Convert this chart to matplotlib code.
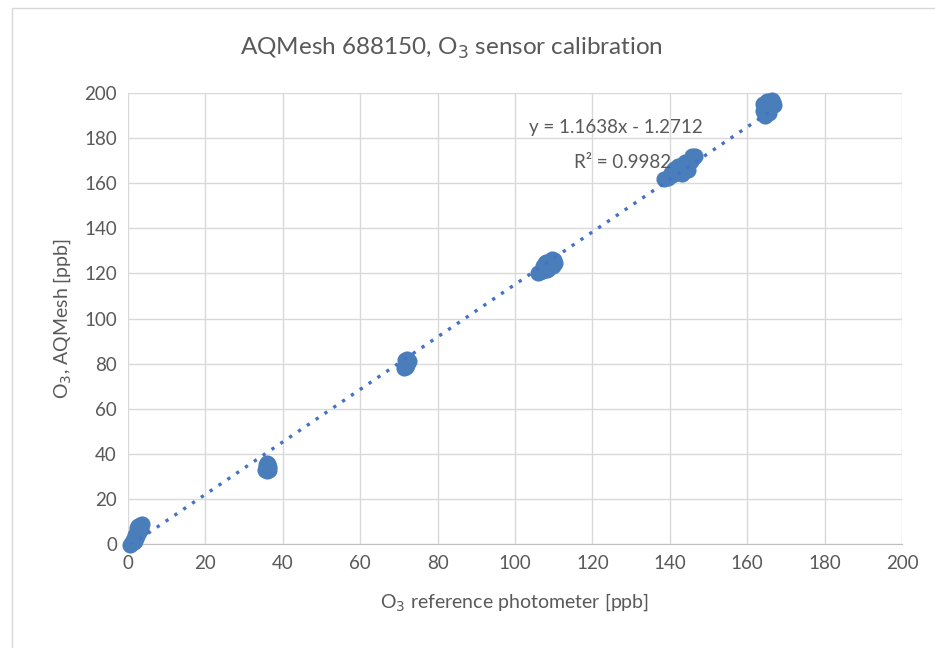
import matplotlib
matplotlib.use("Agg")
import matplotlib.pyplot as plt
from matplotlib.patches import Rectangle
import numpy as np

plt.rcParams['font.family'] = ['Lato', 'DejaVu Sans']

ref_x = [0.8, 1.0, 1.2, 1.5, 1.8, 2.0, 2.3, 2.5, 2.8, 3.0, 3.2, 3.5, 2.2, 1.9, 2.6, 3.3, 1.1, 1.4, 0.6, 2.9,
         35.5, 35.8, 36.0, 36.2, 36.5, 35.9, 36.1, 35.6, 36.4,
         71.4, 71.8, 72.0, 72.2, 72.6, 71.9, 72.1, 72.4, 71.6,
         106.0, 106.5, 107.0, 107.5, 108.0, 108.5, 109.0, 109.5, 110.0, 110.3, 108.2, 108.8, 107.8, 109.3,
         107.2, 108.0, 109.8, 108.6, 109.6, 107.0,
         138.5, 139.5, 140.5, 141.0, 141.5, 142.0, 142.5, 143.0, 143.5, 144.0, 144.5, 145.0, 145.5, 146.0, 146.5,
         142.8, 143.8, 144.8, 141.2, 142.2, 144.0, 145.8, 143.2, 140.2,
         164.0, 164.3, 164.6, 165.0, 165.3, 165.6, 166.0, 166.3, 166.6, 165.2, 165.8, 164.8, 164.2, 166.8]
aq_y = [0.2, 0.5, 1.0, 0.8, 1.5, 2.5, 3.5, 5.0, 6.0, 7.5, 8.5, 9.0, 7.0, 4.0, 8.0, 6.5, 0.3, 1.8, -0.5, 5.5,
        33.0, 34.5, 32.5, 35.5, 34.0, 36.0, 33.5, 35.0, 32.8,
        78.0, 80.0, 81.5, 79.5, 81.0, 78.5, 82.0, 80.5, 81.8,
        120.0, 120.5, 121.0, 122.0, 123.0, 124.0, 125.0, 125.5, 126.0, 124.5, 121.5, 122.5, 124.5, 123.5,
        123.5, 125.0, 123.5, 121.8, 126.5, 121.0,
        162.0, 162.5, 163.5, 164.0, 165.0, 164.5, 166.0, 167.0, 166.5, 168.0, 167.5, 169.0, 170.0, 171.0, 172.0,
        165.5, 167.5, 166.0, 166.5, 167.5, 169.5, 172.0, 164.0, 164.5,
        192.0, 194.0, 190.0, 193.0, 195.0, 191.0, 194.0, 197.0, 196.0, 196.5, 195.5, 193.5, 195.0, 194.5]

slope = 1.1638
intercept = -1.2712
r2 = 0.9982

fig = plt.figure(figsize=(9.35, 6.48), dpi=100)
fig.patches.append(Rectangle((12/935, -0.01), 1.0, 1 - 8/648 + 0.01, transform=fig.transFigure,
                             fill=False, edgecolor='#d9d9d9', linewidth=1.0))
ax = fig.add_axes([128/935, 1 - 544/648, (902 - 128)/935, (544 - 93)/648])

ax.scatter(ref_x, aq_y, s=135, color='#4a7ebb', zorder=3, linewidths=0, clip_on=False)

xs = np.array([min(ref_x), max(ref_x)])
ax.plot(xs, slope * xs + intercept, linestyle=(0, (1, 2.2)), color='#4472c4', linewidth=2.4, zorder=4)

ax.set_xlim(0, 200)
ax.set_ylim(0, 200)
ax.set_xticks(np.arange(0, 201, 20))
ax.set_yticks(np.arange(0, 201, 20))
ax.grid(True, color='#d9d9d9', linewidth=1.0)
ax.set_axisbelow(True)
for s in ['top', 'right', 'left']:
    ax.spines[s].set_visible(False)
ax.spines['bottom'].set_color('#bfbfbf')
ax.tick_params(axis='both', length=0, labelsize=13.5, colors='#595959', pad=8)

ax.set_xlabel('O$_3$ reference photometer [ppb]', fontsize=14, color='#595959', labelpad=14)
ax.set_ylabel('O$_3$, AQMesh [ppb]', fontsize=14, color='#595959', labelpad=8)
fig.text(451/935, 1 - 48/648, 'AQMesh 688150, O$_3$ sensor calibration', fontsize=17.5,
         color='#595959', ha='center', va='center')

fig.text(616/935, 1 - 127/648, f'y = {slope}x - {abs(intercept)}', fontsize=13.5, color='#595959',
         ha='center', va='center')
fig.text(623/935, 1 - 162/648, f'R² = {r2}', fontsize=13.5, color='#595959',
         ha='center', va='center')

fig.savefig('out.png', dpi=100)
